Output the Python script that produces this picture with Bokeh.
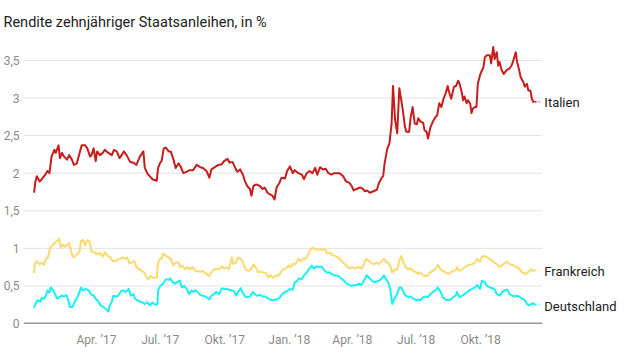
import pandas as pd
from bokeh.plotting import figure
from bokeh.models import Range1d, FixedTicker
from bokeh.core.properties import value
from bokeh.embed import file_html
from bokeh.resources import INLINE

# ---------------- data (days since 2017-01-02, yield in %) ----------------
start_date = "2017-01-02"

italy_day = [0, 2, 4, 8, 11, 16, 19, 22, 25, 29, 31, 35, 37, 40, 43, 47, 50, 54, 57, 61, 65, 68, 73, 76, 80, 82, 85, 88, 90, 94,
             98, 101, 106, 111, 114, 118, 122, 125, 128, 132, 137, 142, 146, 151, 156, 158, 162, 165, 169, 175, 177, 180, 182,
             185, 188, 192, 195, 199, 202, 206, 209, 213, 218, 222, 227, 232, 237,
             241, 246, 250, 253, 258, 263, 268, 271, 276, 279, 283, 287, 290, 294, 298, 301, 304, 308, 310, 313, 317, 322, 326,
             329, 333, 336, 340, 343, 346, 350, 353, 358, 361, 365, 369, 372, 377, 382, 385, 389, 393, 397, 401, 404, 408, 412,
             416, 420, 424, 428, 431, 436, 441, 445, 450, 453, 456, 460, 465, 469, 472, 475, 479,
             484, 489, 492, 496, 498, 500, 504, 507, 508, 510, 512, 515, 518, 521, 523, 526, 529, 531, 535, 537, 540, 543, 546,
             548, 551, 555, 557, 560, 562, 565, 569, 573, 575, 578, 581, 584, 587, 590, 592, 595, 599, 602, 605, 607, 610, 612,
             614, 617, 619, 622, 624, 626, 629, 631, 633, 636, 638, 641, 643, 646, 650, 652, 655, 657, 660, 662, 664, 667, 670,
             674, 678, 681, 683, 687, 689, 692, 694, 698, 700, 703, 705, 708, 710, 712, 714]
italy_yield = [1.74, 1.89, 1.96, 1.89, 1.92, 1.98, 2.03, 2.00, 2.22, 2.31, 2.27, 2.37, 2.20, 2.27, 2.22, 2.18, 2.24, 2.18, 2.11,
               2.13, 2.27, 2.37, 2.37, 2.33, 2.22, 2.24, 2.33, 2.16, 2.29, 2.24, 2.27, 2.31, 2.27, 2.24, 2.31, 2.29, 2.20, 2.24,
               2.29, 2.24, 2.15, 2.14, 2.11, 2.22, 2.29, 2.07, 1.99, 1.96, 1.92, 1.90, 2.07, 2.14, 2.16, 2.33, 2.34, 2.29, 2.29,
               2.18, 2.07, 2.13, 2.09, 2.00, 2.02, 2.04, 2.04, 2.11, 2.08,
               2.07, 2.03, 1.94, 2.05, 2.08, 2.11, 2.12, 2.16, 2.19, 2.14, 2.15, 2.07, 2.02, 2.05, 1.98, 1.89, 1.83, 1.79, 1.70,
               1.83, 1.85, 1.83, 1.79, 1.81, 1.74, 1.72, 1.70, 1.65, 1.81, 1.87, 1.94, 1.93, 2.03, 2.09, 2.00, 2.04, 2.00, 1.98,
               1.92, 2.00, 2.03, 2.00, 2.07, 1.98, 2.08, 2.05, 2.06, 2.00, 1.98, 2.00, 2.00, 2.00, 1.96, 1.89, 1.87, 1.83, 1.77,
               1.79, 1.81, 1.79, 1.76, 1.77, 1.74,
               1.76, 1.78, 1.87, 1.94, 1.96, 2.13, 2.33, 2.40, 2.49, 2.66, 3.16, 2.71, 2.53, 3.13, 3.02, 2.84, 2.62, 2.55, 2.55,
               2.73, 2.88, 2.66, 2.65, 2.73, 2.69, 2.67, 2.57, 2.55, 2.46, 2.60, 2.69, 2.75, 2.77, 2.93, 2.88, 2.99, 3.06, 3.16,
               3.08, 2.99, 3.15, 3.16, 3.23, 3.19, 3.08, 2.97, 3.02, 2.93, 2.97, 2.93, 2.80, 2.86, 2.88, 2.88, 3.19, 3.30, 3.35,
               3.41, 3.54, 3.57, 3.57, 3.46, 3.68, 3.52, 3.61, 3.43, 3.48, 3.37, 3.32, 3.37, 3.39, 3.43, 3.48, 3.61, 3.48, 3.37,
               3.28, 3.21, 3.15, 3.19, 3.10, 3.10, 2.99, 2.95, 2.95]

france_day = [0, 1, 4, 8, 11, 14, 17, 20, 23, 27, 30, 33, 36, 38, 41, 44, 48, 50, 54, 57, 61, 65, 67, 70, 73, 76, 79, 82, 87,
              90, 94, 98, 101, 105, 108, 112, 116, 119, 123, 126, 130, 133, 136, 139, 143, 146, 150, 154, 157, 161, 163, 166,
              170, 175, 177, 180, 182, 184, 188, 192, 195, 199, 202, 206, 208, 212, 215, 219, 222, 226, 230,
              237, 241, 246, 250, 253, 257, 260, 264, 268, 271, 275, 278, 282, 284, 288, 291, 295, 298, 302, 306, 309, 313, 316,
              320, 323, 327, 331, 334, 337, 341, 345, 348, 352, 355, 359, 363, 366, 370, 373, 377, 380, 384, 388, 391, 394, 397,
              401, 404, 408, 411, 415, 418, 422, 426, 429, 432, 436, 440, 443, 447, 450, 454, 458, 461, 465, 468, 472,
              474, 478, 481, 485, 489, 492, 496, 499, 502, 505, 508, 511, 515, 518, 521, 524, 527, 530, 534, 537, 541, 545, 548,
              551, 555, 559, 562, 565, 569, 573, 576, 580, 583, 587, 591, 594, 598, 602, 603, 607, 611, 614, 618, 621, 625, 629,
              632, 636, 639, 643, 646, 650, 654, 657, 660, 664, 668, 671, 675, 678, 682, 686, 689, 693, 696, 700, 703, 707, 709,
              712, 714]
france_yield = [0.67, 0.79, 0.83, 0.79, 0.81, 0.78, 0.86, 0.88, 1.01, 1.05, 1.07, 1.10, 1.13, 1.01, 1.05, 1.02, 1.05, 1.07,
                0.92, 0.88, 0.92, 0.96, 1.10, 1.11, 1.04, 1.11, 1.10, 0.96, 0.94, 0.92, 0.94, 0.89, 0.95, 0.90, 0.89, 0.83,
                0.83, 0.85, 0.86, 0.88, 0.86, 0.88, 0.80, 0.81, 0.83, 0.75, 0.72, 0.70, 0.68, 0.61, 0.59, 0.63, 0.61, 0.61,
                0.81, 0.86, 0.86, 0.93, 0.90, 0.88, 0.86, 0.77, 0.81, 0.81, 0.75, 0.77, 0.72, 0.75, 0.72, 0.75, 0.70,
                0.69, 0.70, 0.66, 0.63, 0.68, 0.72, 0.73, 0.72, 0.76, 0.73, 0.75, 0.72, 0.88, 0.79, 0.81, 0.88, 0.86, 0.81,
                0.72, 0.70, 0.72, 0.78, 0.75, 0.68, 0.69, 0.68, 0.67, 0.61, 0.64, 0.61, 0.64, 0.63, 0.68, 0.72, 0.73, 0.77,
                0.75, 0.80, 0.79, 0.86, 0.83, 0.86, 0.86, 0.92, 0.98, 1.01, 0.99, 0.98, 0.99, 0.98, 0.99, 0.93, 0.94, 0.91,
                0.90, 0.89, 0.86, 0.82, 0.79, 0.76, 0.73, 0.75, 0.73, 0.75, 0.75, 0.73, 0.82,
                0.86, 0.83, 0.80, 0.79, 0.81, 0.79, 0.83, 0.86, 0.82, 0.81, 0.77, 0.68, 0.72, 0.72, 0.83, 0.90, 0.81, 0.75,
                0.72, 0.73, 0.70, 0.68, 0.66, 0.68, 0.64, 0.63, 0.64, 0.68, 0.70, 0.73, 0.78, 0.72, 0.70, 0.68, 0.66, 0.68,
                0.70, 0.71, 0.75, 0.70, 0.72, 0.75, 0.77, 0.78, 0.79, 0.81, 0.86, 0.82, 0.89, 0.90, 0.88, 0.86, 0.83, 0.81,
                0.79, 0.75, 0.78, 0.80, 0.82, 0.79, 0.78, 0.76, 0.75, 0.72, 0.68, 0.66, 0.67, 0.70, 0.72, 0.70, 0.71]

germany_day = [0, 1, 5, 9, 11, 14, 17, 19, 22, 24, 27, 30, 33, 36, 40, 43, 46, 49, 51, 55, 59, 62, 65, 67, 70, 74, 78, 81, 85,
               88, 92, 95, 99, 103, 106, 108, 111, 113, 117, 120, 124, 127, 131, 135, 138, 142, 144, 147, 151, 155, 158, 162,
               165, 169, 173, 176, 177, 180, 184, 188, 192, 194, 198, 201, 204, 208, 211, 214, 218, 221, 225, 227, 231,
               237, 241, 246, 250, 253, 257, 260, 264, 268, 271, 275, 278, 282, 285, 288, 291, 295, 297, 301, 304, 308, 312,
               315, 318, 322, 326, 329, 333, 336, 340, 344, 347, 351, 354, 358, 361, 365, 369, 372, 375, 378, 382, 385, 389,
               392, 396, 399, 403, 407, 410, 413, 417, 421, 424, 428, 431, 435, 439, 442, 446, 450, 453, 456, 460, 464, 467,
               469, 473,
               474, 478, 481, 485, 489, 492, 496, 499, 502, 505, 508, 511, 515, 518, 521, 524, 527, 530, 534, 537, 541, 545,
               548, 551, 555, 559, 562, 565, 569, 573, 576, 580, 583, 587, 591, 594, 598, 602, 603, 607, 611, 614, 618, 621,
               625, 629, 632, 636, 639, 643, 646, 650, 654, 657, 660, 664, 668, 671, 675, 678, 682, 686, 689, 693, 696, 700,
               703, 706, 709, 712, 714]
germany_yield = [0.21, 0.24, 0.31, 0.29, 0.34, 0.33, 0.37, 0.44, 0.41, 0.48, 0.45, 0.39, 0.33, 0.35, 0.37, 0.36, 0.38, 0.31,
                 0.22, 0.22, 0.31, 0.35, 0.42, 0.48, 0.44, 0.46, 0.44, 0.39, 0.37, 0.33, 0.29, 0.24, 0.22, 0.19, 0.16, 0.24,
                 0.29, 0.37, 0.36, 0.37, 0.43, 0.44, 0.42, 0.46, 0.37, 0.39, 0.33, 0.31, 0.29, 0.28, 0.26, 0.28, 0.24, 0.28,
                 0.25, 0.26, 0.44, 0.50, 0.53, 0.59, 0.58, 0.60, 0.55, 0.53, 0.55, 0.57, 0.48, 0.50, 0.46, 0.39, 0.44, 0.42,
                 0.44,
                 0.38, 0.37, 0.35, 0.32, 0.37, 0.39, 0.42, 0.39, 0.47, 0.46, 0.46, 0.45, 0.44, 0.43, 0.37, 0.42, 0.47, 0.42,
                 0.36, 0.35, 0.36, 0.42, 0.39, 0.37, 0.38, 0.36, 0.36, 0.34, 0.32, 0.31, 0.32, 0.32, 0.35, 0.39, 0.42, 0.43,
                 0.46, 0.45, 0.55, 0.56, 0.60, 0.59, 0.64, 0.68, 0.72, 0.77, 0.73, 0.76, 0.75, 0.76, 0.72, 0.68, 0.68, 0.66,
                 0.64, 0.64, 0.63, 0.59, 0.57, 0.53, 0.51, 0.50, 0.51, 0.51, 0.53, 0.51, 0.55, 0.61,
                 0.64, 0.61, 0.58, 0.55, 0.56, 0.57, 0.60, 0.64, 0.59, 0.55, 0.46, 0.26, 0.35, 0.39, 0.48, 0.48, 0.42, 0.37,
                 0.35, 0.36, 0.33, 0.31, 0.32, 0.31, 0.35, 0.36, 0.35, 0.39, 0.42, 0.44, 0.48, 0.42, 0.35, 0.32, 0.31, 0.32,
                 0.35, 0.38, 0.42, 0.35, 0.37, 0.39, 0.42, 0.44, 0.46, 0.48, 0.51, 0.46, 0.57, 0.55, 0.50, 0.48, 0.47, 0.45,
                 0.39, 0.37, 0.42, 0.44, 0.45, 0.39, 0.37, 0.36, 0.37, 0.35, 0.33, 0.31, 0.26, 0.24, 0.26, 0.27, 0.25]

series_names = ["Italien", "Frankreich", "Deutschland"]
series_colors = ["#c71e1d", "#fcd96d", "#19f0f5"]

y_ticks = [0, 0.5, 1, 1.5, 2, 2.5, 3, 3.5]
y_tick_labels = ["0", "0,5", "1", "1,5", "2", "2,5", "3", "3,5"]
x_tick_dates = ["2017-04-01", "2017-07-01", "2017-10-01", "2018-01-01", "2018-04-01", "2018-07-01", "2018-10-01"]
x_tick_labels = ["Apr. \u201917", "Jul. \u201917", "Okt. \u201917", "Jan. \u201918", "Apr. \u201918", "Jul. \u201918", "Okt. \u201918"]

title_text = "Rendite zehnj\u00e4hriger Staatsanleihen, in %"

# ---------------- figure ----------------
FONT = "Roboto"
start = pd.Timestamp(start_date)
x_start = pd.Timestamp("2016-12-18")      # left edge of the plot area
grid_end = pd.Timestamp("2018-12-28")     # where grid lines and the base line stop
x_end = pd.Timestamp("2019-05-17")        # frame extends under the series labels


def ms(ts):
    return pd.Timestamp(ts).value // 10**6


p = figure(width=640, height=360, x_axis_type="datetime",
           x_range=Range1d(ms(x_start), ms(x_end)), y_range=Range1d(0, 3.752),
           output_backend="svg", toolbar_location=None,
           min_border_left=22, min_border_right=0, min_border_top=40, min_border_bottom=37,
           title=title_text)
p.outline_line_color = None
p.background_fill_color = "white"
p.border_fill_color = "white"

p.title.text_font = FONT
p.title.text_font_size = "14.5px"
p.title.text_font_style = "normal"
p.title.text_color = "#222222"
p.title.align = "left"
p.title.offset = -20
p.title.standoff = 22

p.xgrid.grid_line_color = None
p.ygrid.grid_line_color = None

p.yaxis.ticker = FixedTicker(ticks=y_ticks)
p.yaxis.major_label_overrides = {t: l for t, l in zip(y_ticks, y_tick_labels)}
p.yaxis.axis_line_color = None
p.yaxis.major_tick_line_color = None
p.yaxis.minor_tick_line_color = None
p.yaxis.major_tick_out = 0
p.yaxis.major_tick_in = 0
p.yaxis.minor_tick_out = 0
p.yaxis.major_label_text_font = FONT
p.yaxis.major_label_text_font_size = "12px"
p.yaxis.major_label_text_color = "#8a8a8a"
p.yaxis.major_label_standoff = 4

xt = [ms(d) for d in x_tick_dates]
p.xaxis.ticker = FixedTicker(ticks=xt)
p.xaxis.major_label_overrides = {t: l for t, l in zip(xt, x_tick_labels)}
p.xaxis.axis_line_color = None
p.xaxis.major_tick_line_color = None
p.xaxis.minor_tick_line_color = None
p.xaxis.major_tick_out = 0
p.xaxis.major_tick_in = 0
p.xaxis.minor_tick_out = 0
p.xaxis.major_label_text_font = FONT
p.xaxis.major_label_text_font_size = "12px"
p.xaxis.major_label_text_color = "#8a8a8a"
p.xaxis.major_label_standoff = 9

# horizontal grid lines (stop at grid_end), and the dark base line at 0
grid_vals = [t for t in y_ticks if t > 0]
p.segment(x0=[x_start] * len(grid_vals), x1=[grid_end] * len(grid_vals), y0=grid_vals, y1=grid_vals,
          line_color="#e3e3e3", line_width=1)
p.segment(x0=[x_start], x1=[grid_end], y0=[0], y1=[0], line_color="#333333", line_width=1.5)

series = [(italy_day, italy_yield), (france_day, france_yield), (germany_day, germany_yield)]
label_dy = [1, 1, 2]
for (days, vals), name, color, dy in zip(series, series_names, series_colors, label_dy):
    dates = start + pd.to_timedelta(days, unit="D")
    p.line(x=dates, y=vals, line_color=color, line_width=2, line_join="round")
    # dotted connector from the last value to the label
    p.line(x=[dates[-1], grid_end - pd.Timedelta(days=4)], y=[vals[-1], vals[-1]],
           line_color=color, line_width=1.5, line_dash="2 2")
    p.text(x=[grid_end], y=[vals[-1]], text=[name], x_offset=2, y_offset=dy,
           text_baseline="middle", text_align="left", text_font=value(FONT),
           text_font_size="13px", text_color="#222222")

open("out.html", "w").write(file_html(p, INLINE))
